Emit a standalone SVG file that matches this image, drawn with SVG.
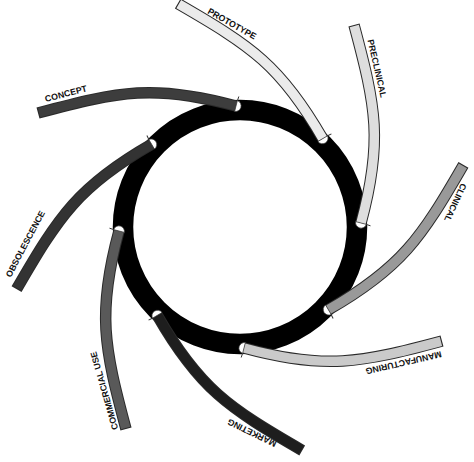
<svg xmlns="http://www.w3.org/2000/svg" xmlns:xlink="http://www.w3.org/1999/xlink" width="474" height="462" viewBox="0 0 474 462">
<style>
.ring{fill:none;stroke:#000;stroke-width:20.5}
.edge{fill:none;stroke:#2a2a2a;stroke-width:11.5}
.band{fill:none;stroke-width:9.5;stroke-dasharray:0 1.1 1000}
.notch{fill:#fff;stroke:#333;stroke-width:0.7}
.barb{fill:none;stroke:#333;stroke-width:1}
.lbl{font-family:"Liberation Sans",Arial,sans-serif;font-weight:bold;font-size:8.8px;fill:#111;text-anchor:middle}
</style>
<defs>
<path id="arm" d="M38,113 C120,91 155,84 236,106"/>
<g id="end">
<path class="notch" d="M237.4,100.6 A5.6,5.6 0 0 1 234.6,111.4 Z"/>
<path class="barb" d="M237.5,100.5 L238.8,96.5"/>
</g>
</defs>
<rect width="474" height="462" fill="#fff"/>
<g id="ring"><circle class="ring" cx="240" cy="227" r="117"/></g>
<g id="concept">
<g>
<use xlink:href="#arm" class="edge"/><use xlink:href="#arm" class="band" stroke="#3d3d3d"/>
<use xlink:href="#end"/>
</g>
<text class="lbl" x="66.7" y="96.6" transform="rotate(-14.5 66.7 96.6)">CONCEPT</text>
</g>
<g id="prototype">
<g transform="rotate(45 240 227)">
<use xlink:href="#arm" class="edge"/><use xlink:href="#arm" class="band" stroke="#ebebeb"/>
<use xlink:href="#end"/>
</g>
<text class="lbl" x="230.5" y="26.4" transform="rotate(29.5 230.5 26.4)">PROTOTYPE</text>
</g>
<g id="preclinical">
<g transform="rotate(90 240 227)">
<use xlink:href="#arm" class="edge"/><use xlink:href="#arm" class="band" stroke="#dedede"/>
<use xlink:href="#end"/>
</g>
<text class="lbl" x="374.1" y="69.2" transform="rotate(77 374.1 69.2)">PRECLINICAL</text>
</g>
<g id="clinical">
<g transform="rotate(135 240 227)">
<use xlink:href="#arm" class="edge"/><use xlink:href="#arm" class="band" stroke="#999"/>
<use xlink:href="#end"/>
</g>
<text class="lbl" x="452.6" y="201.3" transform="rotate(115 452.6 201.3)">CLINICAL</text>
</g>
<g id="manufacturing">
<g transform="rotate(180 240 227)">
<use xlink:href="#arm" class="edge"/><use xlink:href="#arm" class="band" stroke="#cacaca"/>
<use xlink:href="#end"/>
</g>
<text class="lbl" x="403" y="359.8" transform="rotate(167 403 359.8)">MANUFACTURING</text>
</g>
<g id="marketing">
<g transform="rotate(225 240 227)">
<use xlink:href="#arm" class="edge"/><use xlink:href="#arm" class="band" stroke="#1e1e1e"/>
<use xlink:href="#end"/>
</g>
<text class="lbl" x="253.2" y="430.1" transform="rotate(206 253.2 430.1)">MARKETING</text>
</g>
<g id="commercial-use">
<g transform="rotate(270 240 227)">
<use xlink:href="#arm" class="edge"/><use xlink:href="#arm" class="band" stroke="#595959"/>
<use xlink:href="#end"/>
</g>
<text class="lbl" x="107.2" y="389.9" transform="rotate(254 107.2 389.9)">COMMERCIAL USE</text>
</g>
<g id="obsolescence">
<g transform="rotate(315 240 227)">
<use xlink:href="#arm" class="edge"/><use xlink:href="#arm" class="band" stroke="#333"/>
<use xlink:href="#end"/>
</g>
<text class="lbl" x="28" y="245.3" transform="rotate(-62 28 245.3)">OBSOLESCENCE</text>
</g>
</svg>
